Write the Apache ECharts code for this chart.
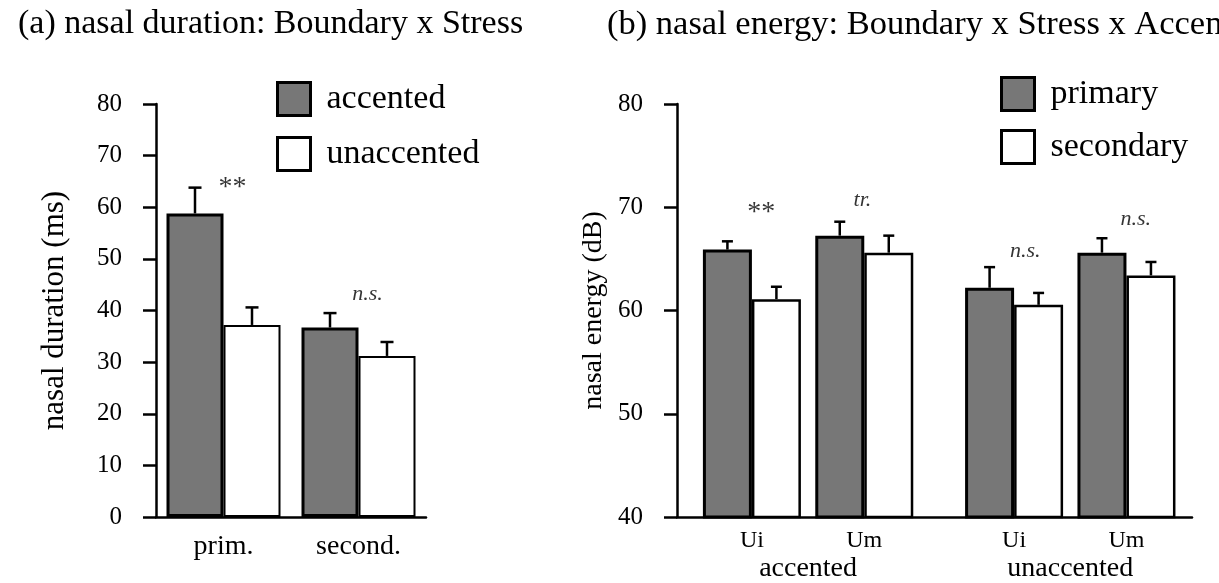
<!DOCTYPE html>
<html>
<head>
<meta charset="utf-8">
<script src="https://cdn.jsdelivr.net/npm/echarts@6/dist/echarts.min.js"></script>
<style>
  html, body { margin: 0; padding: 0; background: #fff; }
  #main { width: 1219px; height: 583px; }
</style>
</head>
<body>
<div id="main"></div>
<script>
// (a) nasal duration: Boundary x Stress
const durCategories = ['prim.', 'second.'];
const durAccented = [58.8, 36.7];
const durAccentedErr = [63.8, 39.5];
const durUnaccented = [37.2, 31.2];
const durUnaccentedErr = [40.6, 33.9];
const durMarks = ['**', 'n.s.'];
const durMarkY = [63.8, 43.2];

// (b) nasal energy: Boundary x Stress x Accent
const enLabels = ['Ui', 'Um', 'Ui', 'Um'];
const enPos = [2, 5, 9, 12];
const enGroups = ['accented', 'unaccented'];
const enGroupPos = [3.5, 10.5];
const enPrimary = [65.9, 67.25, 62.2, 65.6];
const enPrimaryErr = [66.7, 68.6, 64.2, 67.0];
const enSecondary = [61.1, 65.6, 60.55, 63.4];
const enSecondaryErr = [62.3, 67.25, 61.7, 64.7];
const enMarks = ['**', 'tr.', 'n.s.', 'n.s.'];
const enMarkX = [2.25, 4.95, 9.3, 12.25];
const enMarkY = [69.5, 70.7, 65.7, 68.8];

const font = 'Liberation Serif';
const gray = '#777777';

const chart = echarts.init(document.getElementById('main'));

// draws the upward error bar above each bar
function errorBars(offset, cap) {
    return (params, api) => {
        const top = api.coord([api.value(0), api.value(1)]);
        const hi = api.coord([api.value(0), api.value(2)]);
        const x = top[0] + offset;
        const style = { stroke: '#000', lineWidth: 2.5 };
        return {
            type: 'group',
            children: [
                { type: 'line', shape: { x1: x, y1: top[1], x2: x, y2: hi[1] }, style },
                { type: 'line', shape: { x1: x - cap / 2, y1: hi[1], x2: x + cap / 2, y2: hi[1] }, style }
            ]
        };
    };
}

const markLabel = (text) => ({
    show: true,
    position: 'inside',
    formatter: text,
    fontFamily: font,
    fontSize: text === '**' ? 28 : 22,
    fontStyle: text === '**' ? 'normal' : 'italic',
    color: '#000'
});

const yAxisBase = {
    type: 'value',
    nameLocation: 'middle',
    axisLine: { show: true, lineStyle: { color: '#000', width: 2.5 } },
    axisTick: { show: true, inside: false, length: 13, lineStyle: { color: '#000', width: 2.5 } },
    axisLabel: { fontFamily: font, fontSize: 25, color: '#000', margin: 34 },
    splitLine: { show: false }
};

const option = {
    animation: false,
    backgroundColor: '#fff',
    title: [
        { text: '(a) nasal duration: Boundary x Stress', left: 13, top: 2,
          textStyle: { fontFamily: font, fontSize: 34, fontWeight: 'normal', color: '#000' } },
        { text: '(b) nasal energy: Boundary x Stress x Accent', left: 602, top: 2,
          textStyle: { fontFamily: font, fontSize: 34.5, fontWeight: 'normal', color: '#000' } }
    ],
    legend: [
        { data: ['accented', 'unaccented'], orient: 'vertical', left: 271, top: 76,
          icon: 'rect', itemWidth: 33, itemHeight: 33, itemGap: 19,
          itemStyle: { borderColor: '#000', borderWidth: 3 },
          textStyle: { fontFamily: font, fontSize: 34, color: '#000', padding: [0, 0, 0, 11] } },
        { data: ['primary', 'secondary'], orient: 'vertical', left: 995, top: 71,
          icon: 'rect', itemWidth: 33, itemHeight: 33, itemGap: 17,
          itemStyle: { borderColor: '#000', borderWidth: 3 },
          textStyle: { fontFamily: font, fontSize: 34, color: '#000', padding: [0, 0, 0, 11] } }
    ],
    grid: [
        { left: 156, top: 104, width: 270, height: 413 },
        { left: 677, top: 104, width: 515, height: 413 }
    ],
    xAxis: [
        {
            gridIndex: 0, type: 'category', data: durCategories, position: 'bottom',
            axisLine: { lineStyle: { color: '#000', width: 2.5 } },
            axisTick: { show: false },
            axisLabel: { fontFamily: font, fontSize: 28, color: '#000', margin: 16 }
        },
        {
            gridIndex: 1, type: 'value', min: 0, max: 13.75, interval: 1, position: 'bottom',
            axisLine: { show: true, lineStyle: { color: '#000', width: 2.5 } },
            axisTick: { show: false },
            splitLine: { show: false },
            axisLabel: {
                fontFamily: font, fontSize: 24, color: '#000', margin: 12,
                showMaxLabel: false, showMinLabel: false,
                formatter: (v) => { const i = enPos.indexOf(v); return i >= 0 ? enLabels[i] : ''; }
            }
        },
        {
            gridIndex: 1, type: 'value', min: 0, max: 13.75, interval: 0.5, position: 'bottom',
            axisLine: { show: false },
            axisTick: { show: false },
            splitLine: { show: false },
            axisLabel: {
                fontFamily: font, fontSize: 28, color: '#000', margin: 38,
                showMaxLabel: false, showMinLabel: false,
                formatter: (v) => { const i = enGroupPos.indexOf(v); return i >= 0 ? enGroups[i] : ''; }
            }
        }
    ],
    yAxis: [
        { ...yAxisBase, gridIndex: 0, min: 0, max: 80, interval: 10,
          name: 'nasal duration (ms)', nameGap: 86,
          nameTextStyle: { fontFamily: font, fontSize: 31, color: '#000' } },
        { ...yAxisBase, gridIndex: 1, min: 40, max: 80, interval: 10,
          name: 'nasal energy (dB)', nameGap: 69,
          nameTextStyle: { fontFamily: font, fontSize: 28, color: '#000' } }
    ],
    series: [
        {
            name: 'accented', type: 'bar', xAxisIndex: 0, yAxisIndex: 0,
            barWidth: 57, barGap: '0%', data: durAccented,
            itemStyle: { color: gray, borderColor: '#000', borderWidth: 3 }
        },
        {
            name: 'unaccented', type: 'bar', xAxisIndex: 0, yAxisIndex: 0,
            barWidth: 57, barGap: '0%', data: durUnaccented,
            itemStyle: { color: '#fff', borderColor: '#000', borderWidth: 2 }
        },
        {
            type: 'custom', xAxisIndex: 0, yAxisIndex: 0, z: 5,
            renderItem: errorBars(-28.5, 13),
            data: durCategories.map((c, i) => [i, durAccented[i], durAccentedErr[i]])
        },
        {
            type: 'custom', xAxisIndex: 0, yAxisIndex: 0, z: 5,
            renderItem: errorBars(28.5, 13),
            data: durCategories.map((c, i) => [i, durUnaccented[i], durUnaccentedErr[i]])
        },
        {
            type: 'scatter', xAxisIndex: 0, yAxisIndex: 0, symbolSize: 0, silent: true,
            data: durMarks.map((m, i) => ({ value: [i, durMarkY[i]], label: { ...markLabel(m), offset: [9, 0] } }))
        },
        {
            name: 'primary', type: 'bar', xAxisIndex: 1, yAxisIndex: 1,
            barWidth: 49, barGap: '0%',
            data: enPos.map((p, i) => [p, enPrimary[i]]),
            itemStyle: { color: gray, borderColor: '#000', borderWidth: 3 }
        },
        {
            name: 'secondary', type: 'bar', xAxisIndex: 1, yAxisIndex: 1,
            barWidth: 49, barGap: '0%',
            data: enPos.map((p, i) => [p, enSecondary[i]]),
            itemStyle: { color: '#fff', borderColor: '#000', borderWidth: 2.5 }
        },
        {
            type: 'custom', xAxisIndex: 1, yAxisIndex: 1, z: 5,
            renderItem: errorBars(-24.5, 11),
            data: enPos.map((p, i) => [p, enPrimary[i], enPrimaryErr[i]])
        },
        {
            type: 'custom', xAxisIndex: 1, yAxisIndex: 1, z: 5,
            renderItem: errorBars(24.5, 11),
            data: enPos.map((p, i) => [p, enSecondary[i], enSecondaryErr[i]])
        },
        {
            type: 'scatter', xAxisIndex: 1, yAxisIndex: 1, symbolSize: 0, silent: true,
            data: enMarks.map((m, i) => ({ value: [enMarkX[i], enMarkY[i]], label: markLabel(m) }))
        }
    ]
};

chart.setOption(option);
</script>
</body>
</html>
